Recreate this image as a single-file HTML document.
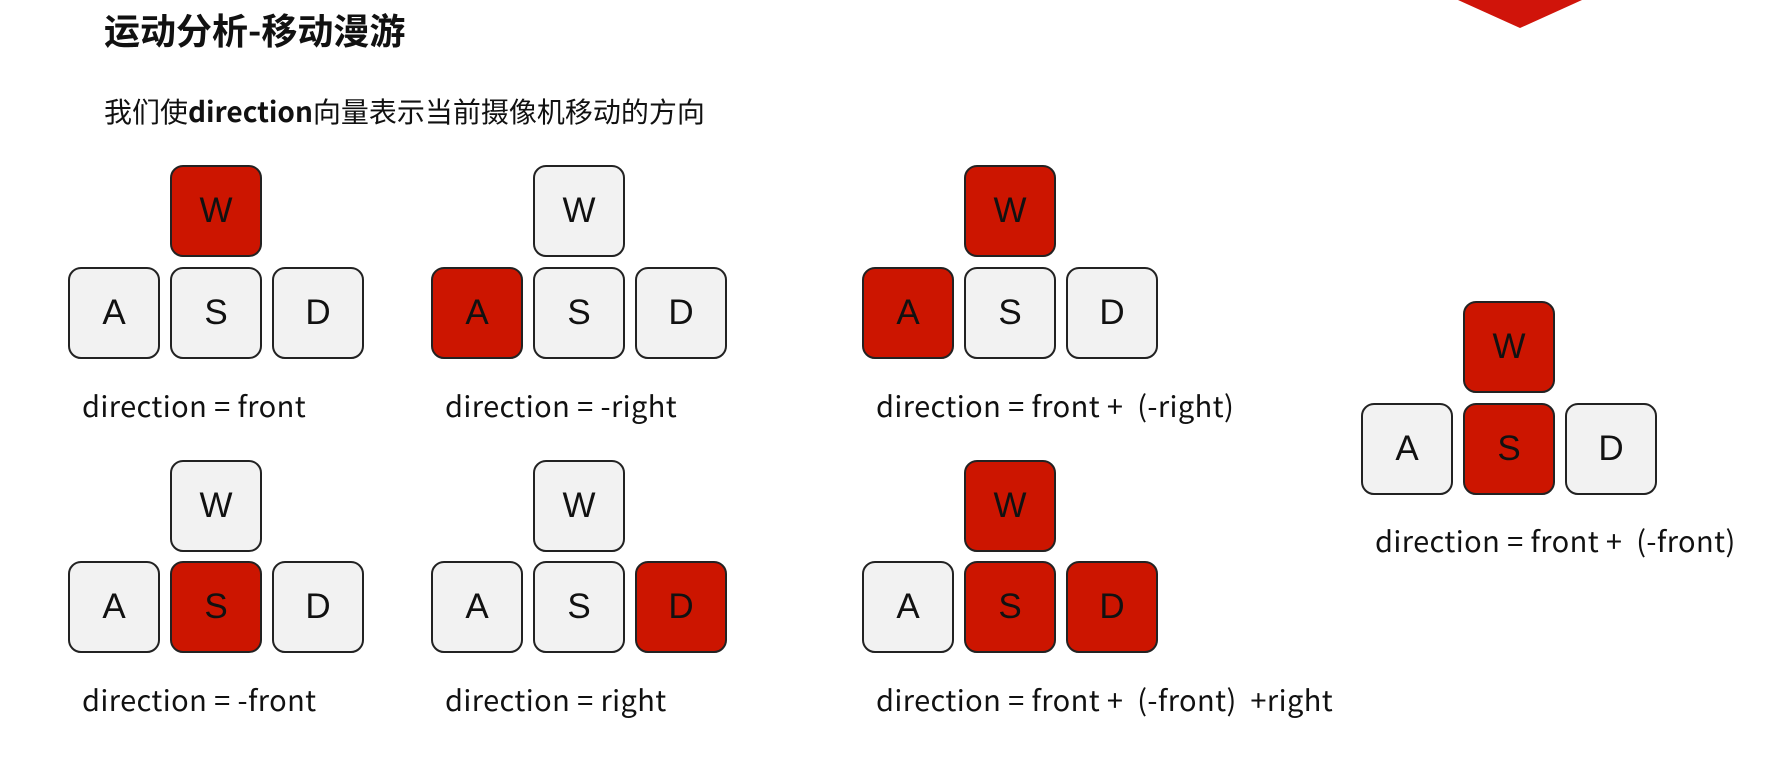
<!DOCTYPE html>
<html><head><meta charset="utf-8"><style>
body{margin:0;width:1788px;height:764px;background:#fff;position:relative;overflow:hidden;font-family:"Liberation Sans","Noto Sans CJK SC",sans-serif;}
.k{position:absolute;width:88px;height:88px;border:2px solid #222;border-radius:13px;background:#f2f2f2;box-sizing:content-box;font-size:35px;color:#111;display:flex;align-items:center;justify-content:center;}
.k.on{background:#cc1500;}
.lbl{position:absolute;font-size:29px;letter-spacing:0.4px;color:#111;white-space:pre;font-family:"Noto Sans CJK SC","Liberation Sans",sans-serif;}
</style></head><body>
<div style="position:absolute;left:104px;top:3px;font-size:36px;font-weight:bold;font-family:'Noto Sans CJK SC',sans-serif;color:#111;">运动分析-移动漫游</div>
<div style="position:absolute;left:104px;top:91px;font-size:28px;font-family:'Noto Sans CJK SC',sans-serif;color:#111;">我们使<b>direction</b>向量表示当前摄像机移动的方向</div>
<svg style="position:absolute;left:0;top:0" width="1788" height="40"><polygon points="1458,0 1582,0 1520,28" fill="#d0140a"/></svg>
<script>
const groups=[
 {x:68,wy:165,ry:267,on:['W'],label:'direction = front',lx:82,ly:384},
 {x:431,wy:165,ry:267,on:['A'],label:'direction = -right',lx:445,ly:384},
 {x:862,wy:165,ry:267,on:['W','A'],label:'direction = front +  (-right)',lx:876,ly:384},
 {x:68,wy:460,ry:561,on:['S'],label:'direction = -front',lx:82,ly:678},
 {x:431,wy:460,ry:561,on:['D'],label:'direction = right',lx:445,ly:678},
 {x:862,wy:460,ry:561,on:['W','S','D'],label:'direction = front +  (-front)  +right',lx:876,ly:678},
 {x:1361,wy:301,ry:403,on:['W','S'],label:'direction = front +  (-front)',lx:1375,ly:519}
];
const root=document.body;
groups.forEach((g,i)=>{
 const keys=[['W',g.x+102,g.wy],['A',g.x,g.ry],['S',g.x+102,g.ry],['D',g.x+204,g.ry]];
 keys.forEach(([t,x,y])=>{
  const d=document.createElement('div');
  d.className='k'+(g.on.includes(t)?' on':'');
  d.style.left=x+'px';d.style.top=y+'px';d.textContent=t;
  
  
  root.appendChild(d);
 });
 const l=document.createElement('div');
 l.className='lbl';l.style.left=g.lx+'px';l.style.top=g.ly+'px';l.textContent=g.label;
 
 
 root.appendChild(l);
});
</script>
</body></html>
